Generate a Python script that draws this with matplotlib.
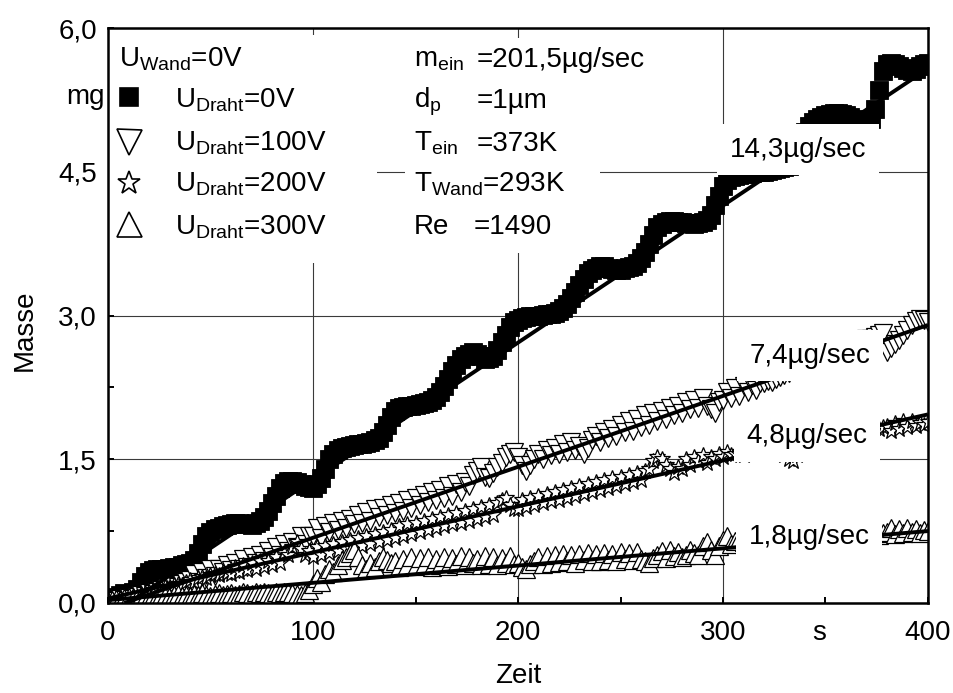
import numpy as np
import matplotlib
matplotlib.use("Agg")
import matplotlib.pyplot as plt
from matplotlib.ticker import MultipleLocator, FuncFormatter
from matplotlib.patches import Rectangle

plt.rcParams['font.family'] = ['Liberation Sans', 'DejaVu Sans']
plt.rcParams['mathtext.fontset'] = 'custom'
plt.rcParams['mathtext.rm'] = 'Liberation Sans'
plt.rcParams['mathtext.it'] = 'Liberation Sans'
plt.rcParams['mathtext.default'] = 'regular'
FS = 20

# ---- measured data: deposited mass (mg) every 2 s ----
zeit = np.arange(0, 401, 2)

masse_0V = [
    0.04, 0.06, 0.05, 0.08, 0.10, 0.09, 0.12, 0.15, 0.22, 0.28,
    0.32, 0.34, 0.35, 0.36, 0.36, 0.37, 0.38, 0.38, 0.40, 0.41,
    0.42, 0.45, 0.52, 0.62, 0.70, 0.74, 0.77, 0.78, 0.80, 0.81,
    0.82, 0.83, 0.83, 0.82, 0.82, 0.81, 0.83, 0.86, 0.90, 0.96,
    1.04, 1.12, 1.20, 1.25, 1.27, 1.27, 1.26, 1.24, 1.22, 1.21,
    1.20, 1.24, 1.30, 1.40, 1.50, 1.56, 1.60, 1.62, 1.63, 1.64,
    1.65, 1.66, 1.66, 1.67, 1.68, 1.70, 1.72, 1.78, 1.86, 1.94,
    2.00, 2.03, 2.05, 2.06, 2.06, 2.07, 2.08, 2.09, 2.10, 2.12,
    2.15, 2.20, 2.26, 2.34, 2.42, 2.48, 2.55, 2.58, 2.60, 2.62,
    2.60, 2.58, 2.55, 2.56, 2.58, 2.64, 2.72, 2.80, 2.88, 2.93,
    2.95, 2.97, 2.98, 2.99, 3.00, 3.00, 3.01, 3.02, 3.02, 3.03,
    3.05, 3.08, 3.12, 3.18, 3.25, 3.32, 3.38, 3.44, 3.48, 3.50,
    3.52, 3.52, 3.50, 3.49, 3.48, 3.48, 3.50, 3.51, 3.52, 3.55,
    3.60, 3.66, 3.75, 3.84, 3.92, 3.96, 3.98, 3.99, 3.99, 3.98,
    3.98, 3.97, 3.97, 3.96, 3.97, 3.98, 4.00, 4.05, 4.15, 4.25,
    4.35, 4.41, 4.45, 4.46, 4.47, 4.48, 4.48, 4.49, 4.50, 4.50,
    4.50, 4.51, 4.52, 4.53, 4.54, 4.55, 4.56, 4.58, 4.62, 4.75,
    4.92, 4.98, 5.02, 5.05, 5.07, 5.09, 5.10, 5.11, 5.11, 5.10,
    5.09, 5.07, 5.05, 5.04, 5.04, 5.04, 5.05, 5.15, 5.35, 5.55,
    5.62, 5.63, 5.62, 5.60, 5.58, 5.56, 5.55, 5.57, 5.60, 5.62,
    5.63,
]

masse_100V = [
    0.02, 0.03, 0.02, 0.04, 0.03, 0.05, 0.04, 0.06, 0.08, 0.07,
    0.10, 0.09, 0.12, 0.14, 0.13, 0.16, 0.18, 0.17, 0.20, 0.22,
    0.24, 0.30, 0.22, 0.32, 0.26, 0.36, 0.28, 0.36, 0.32, 0.40,
    0.34, 0.42, 0.36, 0.46, 0.38, 0.48, 0.42, 0.50, 0.44, 0.54,
    0.48, 0.58, 0.50, 0.62, 0.54, 0.64, 0.58, 0.70, 0.62, 0.70,
    0.70, 0.78, 0.68, 0.80, 0.74, 0.84, 0.76, 0.86, 0.78, 0.88,
    0.82, 0.92, 0.84, 0.95, 0.86, 0.98, 0.90, 0.99, 0.92, 1.02,
    0.94, 1.04, 0.96, 1.08, 0.99, 1.10, 1.02, 1.13, 1.05, 1.16,
    1.08, 1.18, 1.10, 1.22, 1.12, 1.24, 1.16, 1.26, 1.22, 1.34,
    1.38, 1.42, 1.32, 1.30, 1.36, 1.42, 1.46, 1.52, 1.56, 1.58,
    1.52, 1.44, 1.38, 1.44, 1.50, 1.56, 1.50, 1.60, 1.54, 1.62,
    1.56, 1.66, 1.58, 1.68, 1.60, 1.64, 1.56, 1.62, 1.70, 1.74,
    1.68, 1.78, 1.72, 1.82, 1.74, 1.86, 1.78, 1.90, 1.80, 1.92,
    1.84, 1.96, 1.86, 1.98, 1.90, 2.00, 1.92, 2.04, 1.96, 2.06,
    1.98, 2.10, 2.02, 2.12, 2.04, 2.14, 2.06, 2.02, 1.98, 2.10,
    2.12, 2.20, 2.14, 2.24, 2.16, 2.26, 2.20, 2.28, 2.22, 2.30,
    2.30, 2.32, 2.31, 2.34, 2.36, 2.38, 2.40, 2.42, 2.44, 2.46,
    2.48, 2.50, 2.52, 2.54, 2.56, 2.58, 2.60, 2.62, 2.63, 2.65,
    2.66, 2.68, 2.70, 2.72, 2.74, 2.75, 2.76, 2.78, 2.80, 2.82,
    2.62, 2.66, 2.70, 2.74, 2.80, 2.85, 2.90, 2.94, 2.96, 2.95,
    2.93,
]

masse_200V = [
    0.03, 0.02, 0.04, 0.05, 0.04, 0.06, 0.07, 0.06, 0.09, 0.10,
    0.12, 0.14, 0.13, 0.16, 0.17, 0.16, 0.19, 0.20, 0.19, 0.22,
    0.24, 0.22, 0.26, 0.27, 0.26, 0.29, 0.30, 0.29, 0.32, 0.31,
    0.30, 0.38, 0.32, 0.40, 0.34, 0.42, 0.36, 0.44, 0.38, 0.44,
    0.40, 0.48, 0.42, 0.52, 0.50, 0.58, 0.64, 0.56, 0.50, 0.54,
    0.48, 0.58, 0.50, 0.60, 0.52, 0.62, 0.54, 0.64, 0.56, 0.66,
    0.58, 0.68, 0.60, 0.70, 0.62, 0.72, 0.64, 0.74, 0.66, 0.76,
    0.68, 0.80, 0.70, 0.82, 0.72, 0.84, 0.74, 0.86, 0.76, 0.88,
    0.78, 0.90, 0.80, 0.92, 0.82, 0.94, 0.84, 0.96, 0.86, 0.98,
    0.88, 1.00, 0.90, 1.02, 0.92, 1.04, 1.08, 1.10, 1.02, 0.98,
    0.98, 1.08, 1.00, 1.10, 1.02, 1.12, 1.04, 1.14, 1.06, 1.16,
    1.08, 1.18, 1.10, 1.20, 1.12, 1.22, 1.14, 1.24, 1.16, 1.26,
    1.18, 1.28, 1.20, 1.30, 1.22, 1.32, 1.24, 1.34, 1.26, 1.36,
    1.28, 1.38, 1.40, 1.48, 1.52, 1.50, 1.44, 1.40, 1.36, 1.42,
    1.40, 1.50, 1.44, 1.52, 1.48, 1.54, 1.46, 1.52, 1.50, 1.56,
    1.52, 1.58, 1.54, 1.56, 1.55, 1.54, 1.56, 1.57, 1.58, 1.56,
    1.57, 1.58, 1.56, 1.55, 1.57, 1.54, 1.50, 1.48, 1.54, 1.60,
    1.64, 1.66, 1.68, 1.70, 1.72, 1.73, 1.75, 1.76, 1.78, 1.79,
    1.79, 1.80, 1.81, 1.82, 1.83, 1.82, 1.84, 1.83, 1.82, 1.84,
    1.85, 1.80, 1.88, 1.82, 1.90, 1.84, 1.90, 1.85, 1.88, 1.86,
    1.89,
]

masse_300V = [
    0.02, 0.03, 0.04, 0.03, 0.05, 0.06, 0.04, 0.05, 0.07, 0.06,
    0.05, 0.07, 0.06, 0.08, 0.07, 0.06, 0.08, 0.09, 0.07, 0.08,
    0.07, 0.09, 0.08, 0.10, 0.08, 0.07, 0.09, 0.10, 0.08, 0.09,
    0.10, 0.08, 0.09, 0.11, 0.10, 0.09, 0.11, 0.10, 0.12, 0.10,
    0.09, 0.11, 0.10, 0.12, 0.11, 0.10, 0.09, 0.08, 0.10, 0.14,
    0.20, 0.26, 0.22, 0.30, 0.36, 0.32, 0.40, 0.45, 0.48, 0.52,
    0.55, 0.48, 0.40, 0.36, 0.42, 0.38, 0.44, 0.48, 0.45, 0.42,
    0.44, 0.38, 0.46, 0.40, 0.48, 0.39, 0.47, 0.40, 0.48, 0.38,
    0.46, 0.40, 0.48, 0.39, 0.47, 0.41, 0.49, 0.40, 0.48, 0.42,
    0.46, 0.40, 0.49, 0.41, 0.48, 0.40, 0.47, 0.42, 0.49, 0.41,
    0.42, 0.38, 0.36, 0.41, 0.44, 0.48, 0.41, 0.49, 0.42, 0.50,
    0.43, 0.51, 0.44, 0.50, 0.42, 0.51, 0.45, 0.52, 0.44, 0.51,
    0.44, 0.52, 0.45, 0.51, 0.44, 0.53, 0.46, 0.52, 0.45, 0.53,
    0.46, 0.44, 0.42, 0.47, 0.50, 0.54, 0.47, 0.55, 0.49, 0.53,
    0.48, 0.50, 0.55, 0.52, 0.50, 0.60, 0.64, 0.55, 0.50, 0.60,
    0.66, 0.70, 0.62, 0.65, 0.67, 0.64, 0.66, 0.68, 0.65, 0.67,
    0.66, 0.68, 0.65, 0.67, 0.69, 0.66, 0.68, 0.70, 0.67, 0.69,
    0.68, 0.70, 0.67, 0.69, 0.71, 0.68, 0.70, 0.72, 0.69, 0.71,
    0.70, 0.72, 0.69, 0.71, 0.73, 0.70, 0.72, 0.74, 0.71, 0.73,
    0.74, 0.78, 0.72, 0.77, 0.73, 0.78, 0.74, 0.77, 0.73, 0.76,
    0.75,
]

# fitted deposition rates (µg/sec) and the time where each fit starts at zero mass
raten = [14.3, 7.4, 4.8, 1.8]
fit_t0 = [10, 8, -10, -17]
raten_labels = ["14,3µg/sec", "7,4µg/sec", "4,8µg/sec", "1,8µg/sec"]

legend_labels = ["U$_{Draht}$=0V", "U$_{Draht}$=100V",
                 "U$_{Draht}$=200V", "U$_{Draht}$=300V"]
param_names = ["m$_{ein}$", "d$_{p}$", "T$_{ein}$", "", "Re"]
param_values = ["=201,5µg/sec", "=1µm", "=373K", "T$_{Wand}$=293K", "=1490"]

series = [masse_0V, masse_100V, masse_200V, masse_300V]
styles = [
    dict(marker='s', ms=13, mfc='black', mec='black', mew=0.6),
    dict(marker='v', ms=13, mfc='white', mec='black', mew=0.9),
    dict(marker='*', ms=12, mfc='white', mec='black', mew=0.9),
    dict(marker='^', ms=13, mfc='white', mec='black', mew=0.9),
]
legend_ms = [13, 18, 17, 18]

fig = plt.figure(figsize=(9.54, 6.93), dpi=100)
ax = fig.add_axes([108 / 954, 1 - 603 / 693, 820 / 954, 575 / 693])

ax.set_xlim(0, 400)
ax.set_ylim(0, 6)
ax.set_axisbelow(True)
ax.grid(True, which='major', color='#3a3a3a', lw=0.8)

for m, st in zip(series, styles):
    assert len(m) == len(zeit)
    ax.plot(zeit, m, ls='none', zorder=2, **st)

for r, t0 in zip(raten, fit_t0):
    tt = np.array([max(t0, 0), 400.0])
    ax.plot(tt, r / 1000.0 * (tt - t0), color='black', lw=2.8,
            solid_capstyle='butt', zorder=4)

# white panels behind the legend and parameter block
ax.add_patch(Rectangle((0.0, 0.591), 0.328, 0.397, transform=ax.transAxes,
                       facecolor='white', edgecolor='none', zorder=1))
ax.add_patch(Rectangle((0.362, 0.609), 0.238, 0.374, transform=ax.transAxes,
                       facecolor='white', edgecolor='none', zorder=1))

# legend
base = [0.9322, 0.8609, 0.7861, 0.7148, 0.6417]
ax.text(0.0134, base[0], "U$_{Wand}$=0V", transform=ax.transAxes,
        fontsize=FS, va='baseline', ha='left', zorder=6)
mark_y = [0.880, 0.8017, 0.7304, 0.6591]
for lab, st, ms, my, by in zip(legend_labels, styles, legend_ms, mark_y, base[1:]):
    s = dict(st)
    s['ms'] = ms
    s['mew'] = 1.2
    ax.plot([0.0256], [my], ls='none', transform=ax.transAxes,
            clip_on=False, zorder=6, **s)
    ax.text(0.0817, by, lab, transform=ax.transAxes, fontsize=FS,
            va='baseline', ha='left', zorder=6)

# parameter block
value_x = [0.45, 0.45, 0.45, 0.3732, 0.4463]
for name, val, vx, by in zip(param_names, param_values, value_x, base):
    if name:
        ax.text(0.3732, by, name, transform=ax.transAxes, fontsize=FS,
                va='baseline', ha='left', zorder=6)
    ax.text(vx, by, val, transform=ax.transAxes, fontsize=FS,
            va='baseline', ha='left', zorder=6)

# rate labels
label_pos = [(336.6, 4.73), (342.4, 2.58), (341.0, 1.74), (342.0, 0.69)]
for txt, (lx, ly) in zip(raten_labels, label_pos):
    ax.text(lx, ly, txt, fontsize=FS, ha='center', va='center', zorder=7,
            bbox=dict(facecolor='white', edgecolor='none', pad=9))

# axes styling
for sp in ax.spines.values():
    sp.set_linewidth(1.8)
ax.xaxis.set_major_locator(MultipleLocator(100))
ax.xaxis.set_minor_locator(MultipleLocator(50))
ax.yaxis.set_major_locator(MultipleLocator(1.5))
ax.yaxis.set_minor_locator(MultipleLocator(0.75))
ax.yaxis.set_major_formatter(FuncFormatter(lambda v, _: f"{v:.1f}".replace('.', ',')))
ax.tick_params(which='both', direction='in', length=4, width=1.4,
               top=False, right=False, labelsize=FS)
ax.tick_params(axis='x', pad=12)
ax.tick_params(axis='y', pad=8)

ax.annotate("s", xy=(347, 0), xycoords=('data', 'axes fraction'),
            xytext=(0, -12), textcoords='offset points',
            ha='center', va='top', fontsize=FS)
ax.text(-0.004, 5.28, "mg", transform=ax.get_yaxis_transform(),
        ha='right', va='center', fontsize=FS)

fig.text(25 / 954, 1 - 330 / 693, "Masse", rotation=90, ha='center',
         va='center', fontsize=FS)
fig.text(518 / 954, 1 - 676 / 693, "Zeit", ha='center', va='center',
         fontsize=FS)

fig.savefig("out.png", dpi=100)
